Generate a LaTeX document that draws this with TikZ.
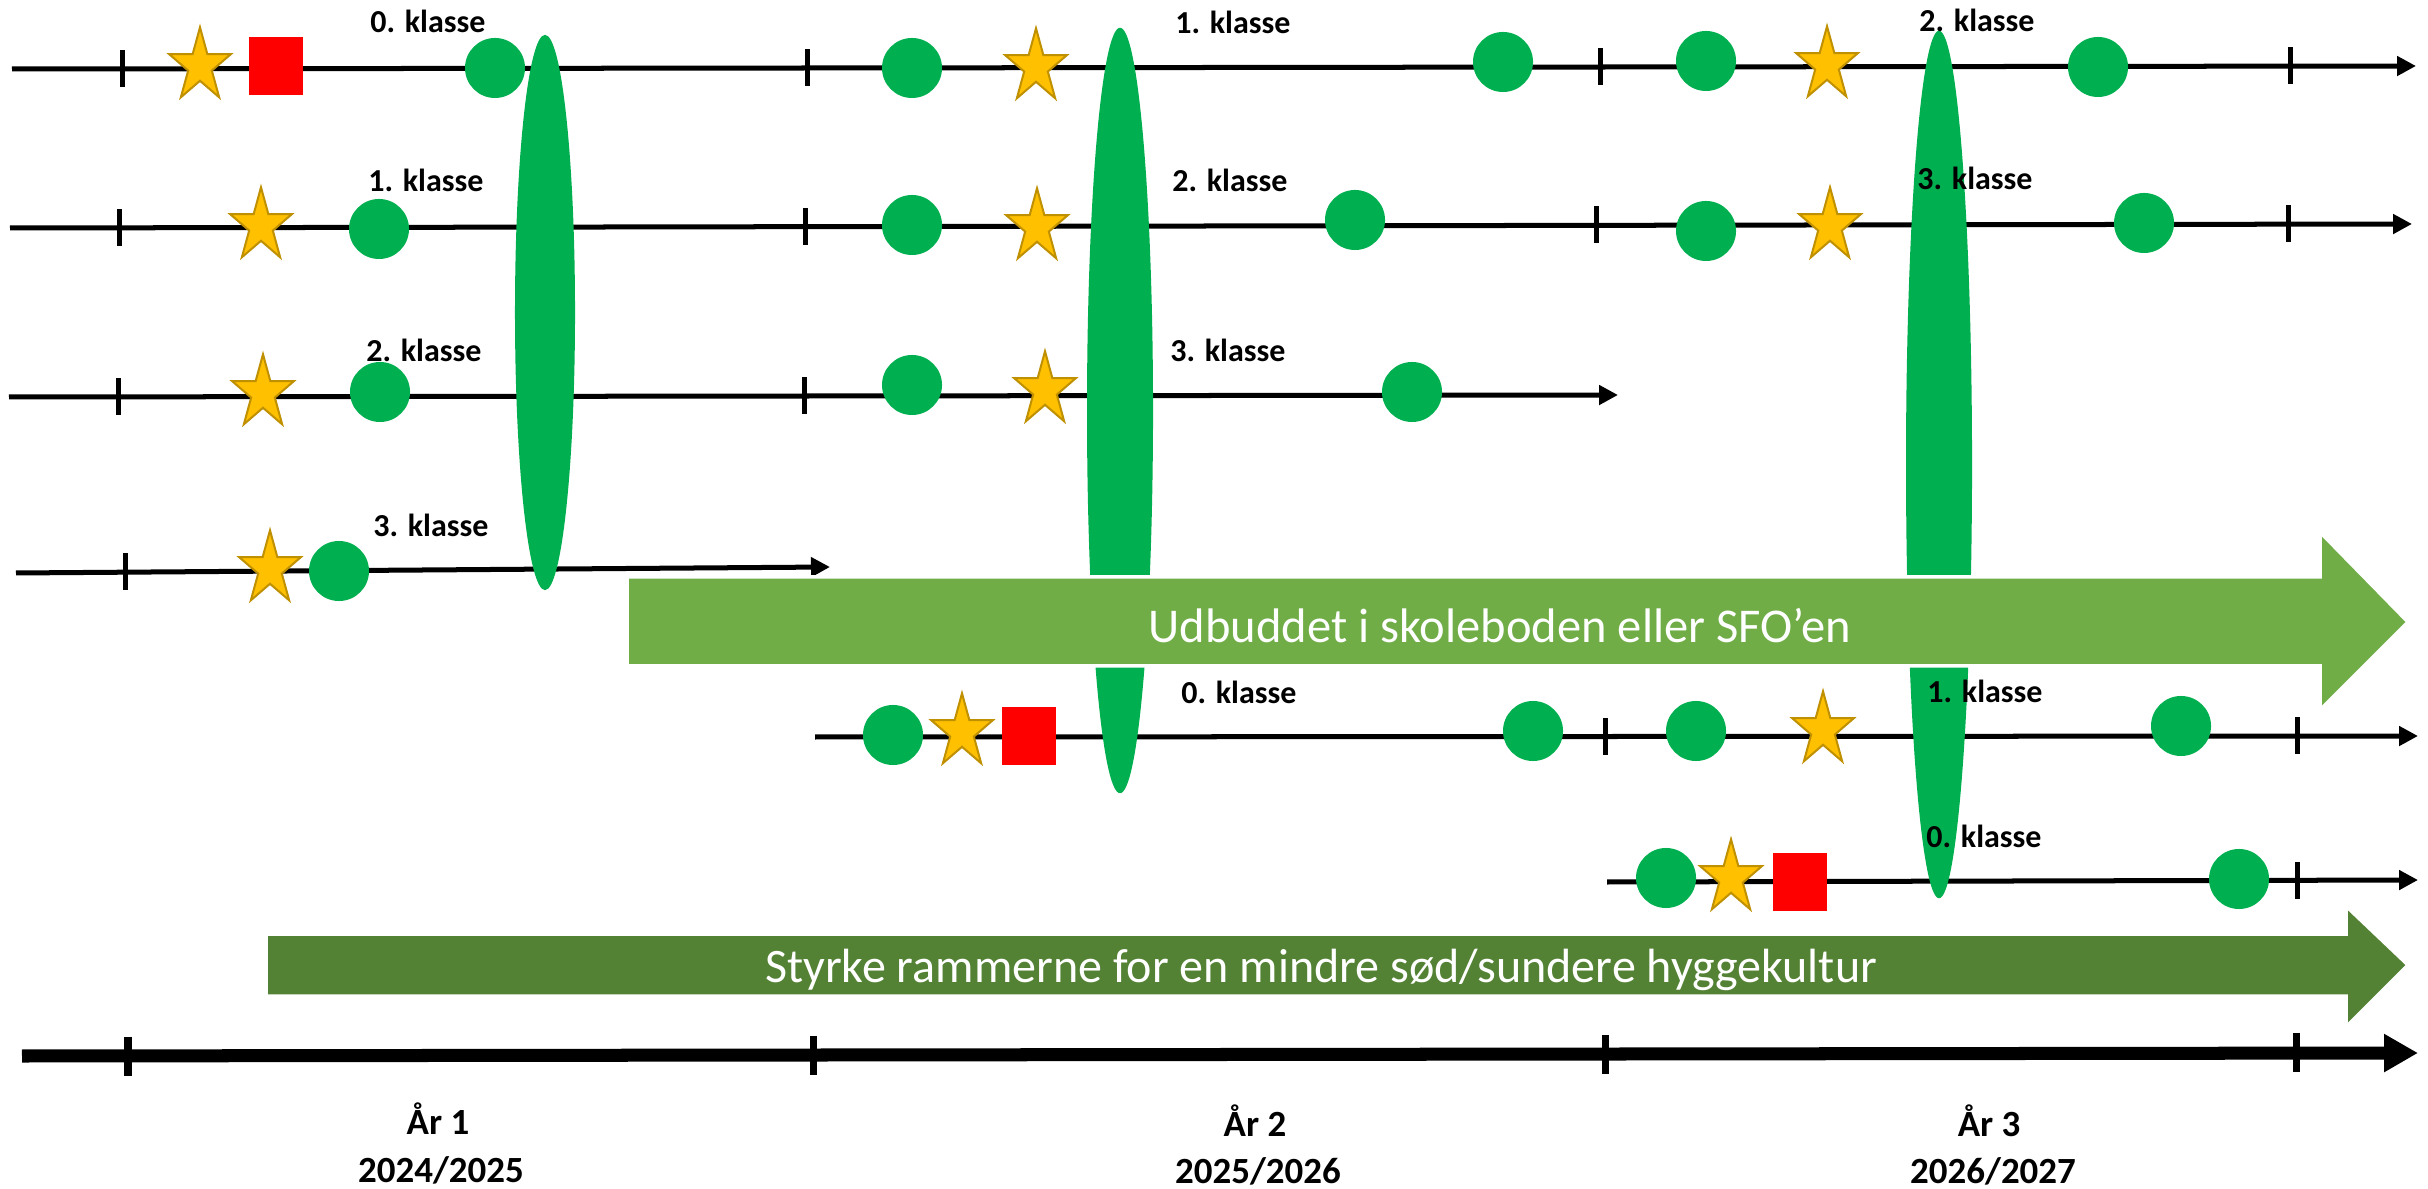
\documentclass[tikz,border=0pt]{standalone}
\usepackage{fontspec}
\setmainfont{Carlito}
\usetikzlibrary{arrows.meta,shapes.geometric}
\definecolor{dotgreen}{HTML}{00B050}
\definecolor{lightarrow}{HTML}{70AD47}
\definecolor{darkarrow}{HTML}{548235}
\definecolor{stargold}{HTML}{FFC000}
\definecolor{staredge}{HTML}{BF9000}
\definecolor{sqred}{HTML}{FF0000}
\tikzset{
  gstar/.pic={\filldraw[fill=stargold,draw=staredge,line width=0.02cm,line join=miter]
    (0,-38.7) -- (7.32,-11.97) -- (31.0,-11.96) -- (11.84,4.57) -- (19.16,31.31) -- (0,14.8)
    -- (-19.16,31.31) -- (-11.84,4.57) -- (-31.0,-11.96) -- (-7.32,-11.97) -- cycle;}
}
\begin{document}
\begin{tikzpicture}[x=0.01cm,y=-0.01cm,
  rowarrow/.style={line width=0.05cm,-{Triangle[length=0.19cm,width=0.19cm]}},
  tickmark/.style={line width=0.05cm},
  mainline/.style={line width=0.13cm,-{Triangle[length=0.34cm,width=0.36cm]}},
  maintick/.style={line width=0.07cm},
  dot/.style={circle,fill=dotgreen,inner sep=0pt,minimum size=0.6cm},
  sq/.style={rectangle,fill=sqred,inner sep=0pt,minimum width=0.54cm,minimum height=0.57cm},
  spindle/.style={ellipse,fill=dotgreen,inner sep=0pt},
  klabel/.style={font=\fontsize{9.1pt}{11pt}\selectfont\bfseries,inner sep=0pt,anchor=base},
  ylabel/.style={font=\fontsize{10.5pt}{12.8pt}\selectfont\bfseries,inner sep=0pt,anchor=base},
  bigtext/.style={font=\fontsize{13.8pt}{16pt}\selectfont,text=white,inner sep=0pt,anchor=base},
  bigarrow/.style={draw=white,line width=0.035cm,line join=miter},
]
\useasboundingbox[fill=white] (0,0) rectangle (2428,1189);

% ---- row lines ----
\coordinate (r1a) at (12,69);   \coordinate (r1b) at (2416,66);
\coordinate (r2a) at (10,228);  \coordinate (r2b) at (2412,224);
\coordinate (r3a) at (9,397);   \coordinate (r3b) at (1618,395);
\coordinate (r4a) at (16,573);  \coordinate (r4b) at (830,567);
\coordinate (r5a) at (815,737); \coordinate (r5b) at (2418,736);
\coordinate (r6a) at (1607,882);\coordinate (r6b) at (2418,880);
\coordinate (tla) at (22,1056); \coordinate (tlb) at (2418,1053);
\draw[rowarrow] (r1a) -- (r1b);
\draw[rowarrow] (r2a) -- (r2b);
\draw[rowarrow] (r3a) -- (r3b);
\draw[rowarrow] (r4a) -- (r4b);
\draw[rowarrow] (r5a) -- (r5b);
\draw[rowarrow] (r6a) -- (r6b);
\draw[mainline] (tla) -- (tlb);

% ---- ticks ----
\foreach \x/\y in {122/69,807/68,1600/67,2290/66,
                   119/228,805/227,1596/225,2288/224,
                   118/397,804/396,
                   125/572,
                   1605/737,2297/736,
                   2297/880}
  \draw[tickmark] (\x,\y-18.5) -- (\x,\y+18.5);
\foreach \x/\y in {128/1056,813/1055,1605/1054,2296/1052}
  \draw[maintick] (\x,\y-19.5) -- (\x,\y+19.5);

% ---- markers: row 1 ----
\pic (s11) at (200,66) {gstar};
\node[sq] (q11) at (276,66) {};
\node[dot] (c11) at (495,68) {};
\node[dot] (c12) at (912,68) {};
\pic (s12) at (1036,67) {gstar};
\node[dot] (c13) at (1503,62) {};
\node[dot] (c14) at (1706,61) {};
\pic (s13) at (1827,65) {gstar};
\node[dot] (c15) at (2098,67) {};
% row 2
\pic (s21) at (261,226) {gstar};
\node[dot] (c21) at (379,229) {};
\node[dot] (c22) at (912,225) {};
\pic (s22) at (1037,227) {gstar};
\node[dot] (c23) at (1355,220) {};
\node[dot] (c24) at (1706,231) {};
\pic (s23) at (1830,226) {gstar};
\node[dot] (c25) at (2144,223) {};
% row 3
\pic (s31) at (263,393) {gstar};
\node[dot] (c31) at (380,392) {};
\node[dot] (c32) at (912,385) {};
\pic (s32) at (1045,390) {gstar};
\node[dot] (c33) at (1412,392) {};
% row 4
\pic (s41) at (270,569) {gstar};
\node[dot] (c41) at (339,571) {};
% row 5
\node[dot] (c51) at (893,735) {};
\pic (s51) at (962,732) {gstar};
\node[sq] (q51) at (1029,736) {};
\node[dot] (c52) at (1533,731) {};
\node[dot] (c53) at (1696,731) {};
\pic (s52) at (1823,730) {gstar};
\node[dot] (c54) at (2181,726) {};
% row 6
\node[dot] (c61) at (1666,878) {};
\pic (s61) at (1731,878) {gstar};
\node[sq] (q61) at (1800,882) {};
\node[dot] (c62) at (2239,879) {};

% ---- big spindles ----
\node[spindle,minimum width=0.60cm,minimum height=5.55cm] (e1) at (545,312.5) {};
\node[spindle,minimum width=0.66cm,minimum height=7.65cm] (e2) at (1120,410.5) {};
\node[spindle,minimum width=0.66cm,minimum height=8.67cm] (e3) at (1939,464.5) {};

% ---- big arrows ----
\filldraw[bigarrow,fill=lightarrow] (627,577) -- (2320,577) -- (2320,532) -- (2408,622)
  -- (2320,710) -- (2320,666) -- (627,666) -- cycle;
\node[bigtext] (t1) at (1500,643) {Udbuddet i skoleboden eller SFO’en};
\filldraw[bigarrow,fill=darkarrow] (266,934) -- (2346,934) -- (2346,906) -- (2408,965)
  -- (2346,1027) -- (2346,996) -- (266,996) -- cycle;
\node[bigtext,font=\fontsize{13.66pt}{16pt}\selectfont] (t2) at (1321,982) {Styrke rammerne for en mindre sød/sundere hyggekultur};

% ---- klasse labels ----
\node[klabel] (l11) at (428,33) {0. klasse};
\node[klabel] (l12) at (1233,34) {1. klasse};
\node[klabel] (l13) at (1977,32) {2. klasse};
\node[klabel] (l21) at (426,192) {1. klasse};
\node[klabel] (l22) at (1230,192) {2. klasse};
\node[klabel] (l23) at (1975,190) {3. klasse};
\node[klabel] (l31) at (424,362) {2. klasse};
\node[klabel] (l32) at (1228,362) {3. klasse};
\node[klabel] (l41) at (431,537) {3. klasse};
\node[klabel] (l51) at (1239,704) {0. klasse};
\node[klabel] (l52) at (1985,703) {1. klasse};
\node[klabel] (l61) at (1984,847) {0. klasse};

% ---- year labels ----
\node[ylabel] (y1a) at (438,1134) {År 1};
\node[ylabel] (y1b) at (441,1182) {2024/2025};
\node[ylabel] (y2a) at (1255,1136) {År 2};
\node[ylabel] (y2b) at (1258,1183) {2025/2026};
\node[ylabel] (y3a) at (1989,1136) {År 3};
\node[ylabel] (y3b) at (1993,1183) {2026/2027};
\end{tikzpicture}
\end{document}
